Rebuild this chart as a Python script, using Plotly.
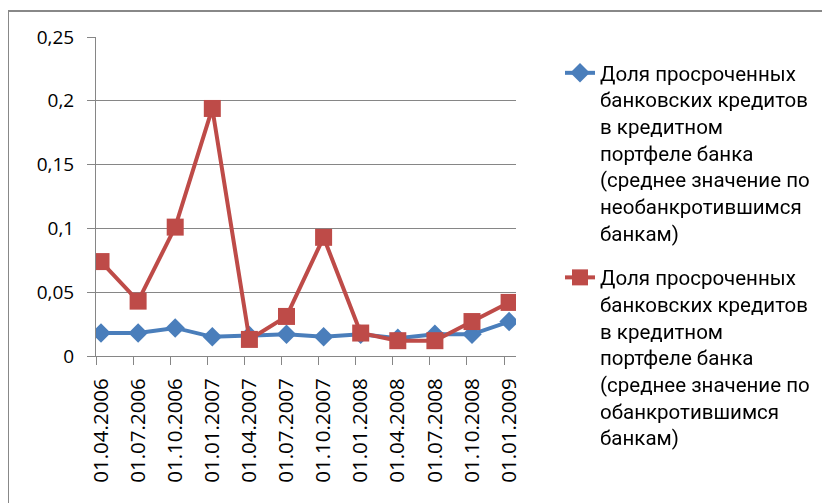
import plotly.graph_objects as go

dates = ["01.04.2006", "01.07.2006", "01.10.2006", "01.01.2007", "01.04.2007", "01.07.2007",
         "01.10.2007", "01.01.2008", "01.04.2008", "01.07.2008", "01.10.2008", "01.01.2009"]
non_bankrupt = [0.018, 0.018, 0.022, 0.015, 0.016, 0.017, 0.015, 0.017, 0.014, 0.017, 0.017, 0.027]
bankrupt = [0.074, 0.043, 0.101, 0.194, 0.013, 0.031, 0.093, 0.018, 0.012, 0.012, 0.027, 0.042]
name_non = "Доля просроченных<br>банковских кредитов<br>в кредитном<br>портфеле банка<br>(среднее значение по<br>необанкротившимся<br>банкам)"
name_bank = "Доля просроченных<br>банковских кредитов<br>в кредитном<br>портфеле банка<br>(среднее значение по<br>обанкротившимся<br>банкам)"
y_tickvals = [0, 0.05, 0.1, 0.15, 0.2, 0.25]
y_ticktext = ["0", "0,05", "0,1", "0,15", "0,2", "0,25"]

FONT = "Open Sans"
LEGEND_FONT = "Roboto"
OFF = 8  # page body margin
W, H = 830, 503
L, R, T, B = 88, 322, 29, 155
pw, ph = W - L - R, H - T - B

x_idx = list(range(len(dates)))
x_range = [-0.135, 11.186]
tick_pos = [i - 0.135 for i in x_idx]

fig = go.Figure()
fig.add_trace(go.Scatter(
    x=x_idx, y=non_bankrupt, mode="lines+markers", name=name_non, legendgroup="a",
    line=dict(color="#4A7EBB", width=4),
    marker=dict(symbol="diamond", size=15, color="#4A7EBB"),
))
fig.add_trace(go.Scatter(
    x=x_idx, y=bankrupt, mode="lines+markers", name=name_bank, legendgroup="b",
    line=dict(color="#BE4B48", width=4),
    marker=dict(symbol="square", size=17, color="#BE4B48"),
))
# invisible helper trace that activates the tick-only overlay axis
fig.add_trace(go.Scatter(x=x_idx, y=bankrupt, xaxis="x2", mode="markers", opacity=0,
                         showlegend=False, hoverinfo="skip"))

def px_x(p):
    return (p - OFF - L) / pw

def px_y(p):
    return (H - B - (p - OFF)) / ph

fig.update_layout(
    width=W, height=H,
    margin=dict(l=L, r=R, t=T, b=B, autoexpand=False),
    paper_bgcolor="white", plot_bgcolor="white",
    font=dict(family=FONT, size=19, color="black"),
    showlegend=True,
    legend=dict(x=px_x(560), y=px_y(53), xanchor="left", yanchor="top", valign="top",
                font=dict(family=LEGEND_FONT, size=20.5, color="black"), maxheight=480,
                tracegroupgap=15, bgcolor="rgba(0,0,0,0)"),
    xaxis=dict(
        range=x_range, tickmode="array", tickvals=x_idx, ticktext=dates,
        tickangle=-90, showgrid=False, showline=True, linecolor="#868686", linewidth=1,
        ticks="", zeroline=False, automargin=False, ticklabelstandoff=13,
        tickfont=dict(family=FONT, size=20.5, color="black"),
    ),
    xaxis2=dict(
        range=x_range, overlaying="x", anchor="y", side="bottom",
        tickmode="array", tickvals=tick_pos, showticklabels=False,
        ticks="outside", ticklen=8, tickcolor="#868686", showgrid=False, showline=False,
        zeroline=False, automargin=False,
    ),
    yaxis=dict(
        range=[0, 0.25], tickmode="array", tickvals=y_tickvals, ticktext=y_ticktext,
        showgrid=True, gridcolor="#868686", gridwidth=1, showline=True, linecolor="#868686",
        linewidth=1, ticks="outside", ticklen=8, tickcolor="#868686", zeroline=False,
        automargin=False, ticklabelstandoff=9,
        tickfont=dict(family=FONT, size=19, color="black"),
    ),
    shapes=[
        dict(type="line", xref="paper", yref="paper", x0=px_x(7), x1=px_x(850),
             y0=px_y(11), y1=px_y(11), line=dict(color="#888888", width=2)),
        dict(type="line", xref="paper", yref="paper", x0=px_x(8), x1=px_x(8),
             y0=px_y(11), y1=px_y(530), line=dict(color="#888888", width=2)),
    ],
)

fig.write_html("out.html")
